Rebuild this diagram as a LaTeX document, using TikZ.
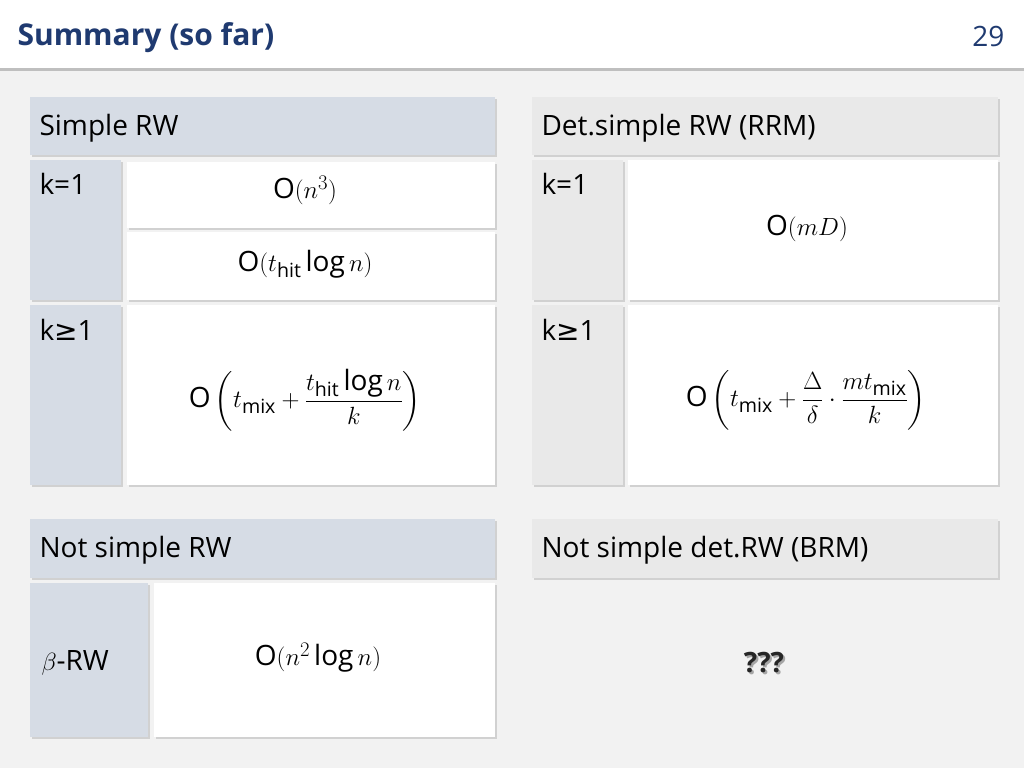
\documentclass[tikz,border=0pt]{standalone}
\usepackage{amsmath}
\usepackage{fontspec}
\setmainfont{Open Sans}
\newfontfamily\symfont{DejaVu Sans}
\usetikzlibrary{shadows}
\definecolor{bgray}{HTML}{F2F2F2}
\definecolor{titleblue}{HTML}{1F3A70}
\definecolor{leftcol}{HTML}{D6DCE5}
\definecolor{rightcol}{HTML}{E9E9E9}
\newcommand{\geqsym}{{\symfont ≥}}
\begin{document}
\begin{tikzpicture}[x=1pt,y=-1pt,
  cell/.style={anchor=north west,inner sep=0pt,draw=none,
    drop shadow={shadow xshift=1.5pt,shadow yshift=-1.5pt,fill=black!30}},
  lefthead/.style={cell,fill=leftcol},
  righthead/.style={cell,fill=rightcol},
  whitecell/.style={cell,fill=white},
  headtext/.style={anchor=west,font=\fontsize{28}{32}\selectfont},
  ktext/.style={anchor=north west,font=\fontsize{28}{32}\selectfont},
  formula/.style={font=\fontsize{28}{32}\selectfont}]

% page
\fill[bgray] (0,0) rectangle (1024,768);
\fill[white] (0,0) rectangle (1024,68);
\fill[black!25] (0,68) rectangle (1024,71);
\node (title) [anchor=west,text=titleblue,font=\fontsize{30}{34}\selectfont\bfseries] at (14,38) {Summary (so far)};
\node (pagenum) [anchor=east,text=titleblue,font=\fontsize{28}{32}\selectfont] at (1008,36) {29};

% simple RW
\node (h_simple) [lefthead,minimum width=465pt,minimum height=58pt] at (30,97) {};
\node [headtext] at (36,128) {Simple RW};
\node (k1_left) [lefthead,minimum width=91pt,minimum height=140pt] at (30,160) {};
\node [ktext] at (36,170) {k=1};
\node (c_n3) [whitecell,minimum width=368pt,minimum height=66pt] at (127,162) {};
\node [formula] at (305,190) {$\mathrm{O}(n^3)$};
\node (c_hit) [whitecell,minimum width=368pt,minimum height=68pt] at (127,232) {};
\node [formula] at (305,264) {$\mathrm{O}(t_{\mathrm{hit}}\log n)$};
\node (k2_left) [lefthead,minimum width=91pt,minimum height=180pt] at (30,305) {};
\node [ktext] at (36,316) {k\geqsym1};
\node (c_mix) [whitecell,minimum width=368pt,minimum height=180pt] at (127,305) {};
\node [formula] at (305,400) {$\mathrm{O}\left(t_{\mathrm{mix}}+\dfrac{t_{\mathrm{hit}}\log n}{k}\right)$};

% det. simple RW
\node (h_det) [righthead,minimum width=466pt,minimum height=58pt] at (532,97) {};
\node [headtext] at (538,128) {Det.simple RW (RRM)};
\node (k1_right) [righthead,minimum width=91pt,minimum height=140pt] at (532,160) {};
\node [ktext] at (538,170) {k=1};
\node (c_md) [whitecell,minimum width=370pt,minimum height=140pt] at (628,160) {};
\node [formula] at (807,228) {$\mathrm{O}(mD)$};
\node (k2_right) [righthead,minimum width=91pt,minimum height=180pt] at (532,305) {};
\node [ktext] at (538,316) {k\geqsym1};
\node (c_det) [whitecell,minimum width=370pt,minimum height=180pt] at (628,305) {};
\node [formula] at (806,400) {$\mathrm{O}\left(t_{\mathrm{mix}}+\dfrac{\Delta}{\delta}\cdot\dfrac{m t_{\mathrm{mix}}}{k}\right)$};

% not simple RW
\node (h_notsimple) [lefthead,minimum width=465pt,minimum height=59pt] at (30,519) {};
\node [headtext] at (36,550) {Not simple RW};
\node (beta_left) [lefthead,minimum width=118pt,minimum height=154pt] at (30,583) {};
\node [anchor=west,font=\fontsize{28}{32}\selectfont] at (38,663) {$\beta$-RW};
\node (c_beta) [whitecell,minimum width=341pt,minimum height=154pt] at (154,583) {};
\node [formula] at (318,658) {$\mathrm{O}(n^2\log n)$};

% not simple det. RW
\node (h_notdet) [righthead,minimum width=466pt,minimum height=59pt] at (532,519) {};
\node [headtext] at (538,550) {Not simple det.RW (BRM)};
\node [font=\fontsize{28}{32}\selectfont\bfseries,text=black!35] at (766,665) {???};
\node (unknown) [font=\fontsize{28}{32}\selectfont\bfseries,text=black!85] at (764,663) {???};
\end{tikzpicture}
\end{document}
